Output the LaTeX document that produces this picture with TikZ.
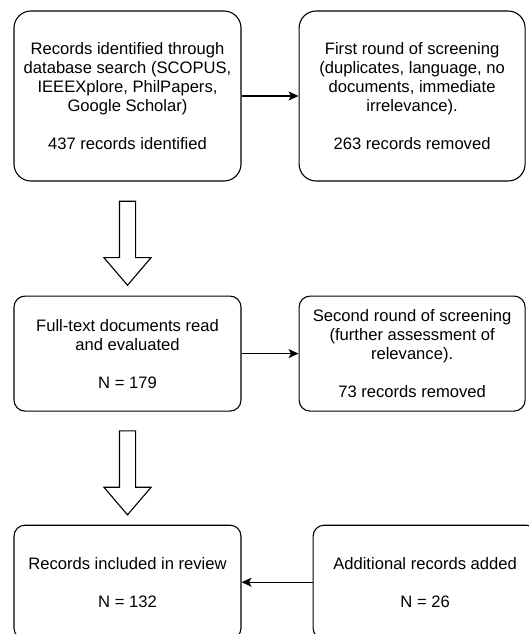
\documentclass[tikz,border=0pt]{standalone}
\usepackage{fontspec}
\setmainfont{Liberation Sans}
\usepackage{tikz}
\usetikzlibrary{arrows.meta,shapes,positioning,calc}

\begin{document}
\begin{tikzpicture}[x=1pt, y=-1pt, font=\fontsize{16.6}{19}\selectfont, ->, >={Stealth[length=10pt, width=9pt, inset=2.5pt]}, line width=1.1pt]
      \tikzstyle{stage} = [rectangle, draw, rounded corners=11, align=center, minimum width=227, minimum height=115, inner sep=0]
      \tikzstyle{tall} = [stage, rounded corners=17, minimum height=170]
      \tikzstyle{bigarrow} = [single arrow, draw, rotate=-90, inner xsep=0, inner ysep=7.5pt, minimum height=84, single arrow head extend=15.5, single arrow tip angle=81]

      \useasboundingbox (0,0) rectangle (529,634);

      \node[tall]                                                 (search)   at (127.5,96) {Records identified through\\database search (SCOPUS,\\IEEEXplore, PhilPapers,\\Google Scholar)\\[19pt]437 records identified};
      \node[tall, right=57pt of search, minimum width=226]        (first)    {First round of screening\\(duplicates, language, no\\documents, immediate\\irrelevance).\\[19pt]263 records removed};
      \node[stage, below=114pt of search]                         (fulltext) {Full-text documents read\\and evaluated\\[19pt]N = 179};
      \node[stage, right=57pt of fulltext, minimum width=226]     (second)   {Second round of screening\\(further assessment of\\relevance).\\[19pt]73 records removed};
      \node[stage, below=113pt of fulltext, minimum height=114]   (included) {Records included in review\\[19pt]N = 132};
      \node[stage, right=71pt of included, minimum width=224, minimum height=114] (added) {Additional records added\\[19pt]N = 26};

      \node[bigarrow] (down1) at ($(search.south)!0.5!(fulltext.north)$)   {};
      \node[bigarrow] (down2) at ($(fulltext.south)!0.5!(included.north)$) {};

      \draw (search)   -- (first);
      \draw (fulltext) -- (second);
      \draw (added)    -- (included);
    \end{tikzpicture}
\end{document}
